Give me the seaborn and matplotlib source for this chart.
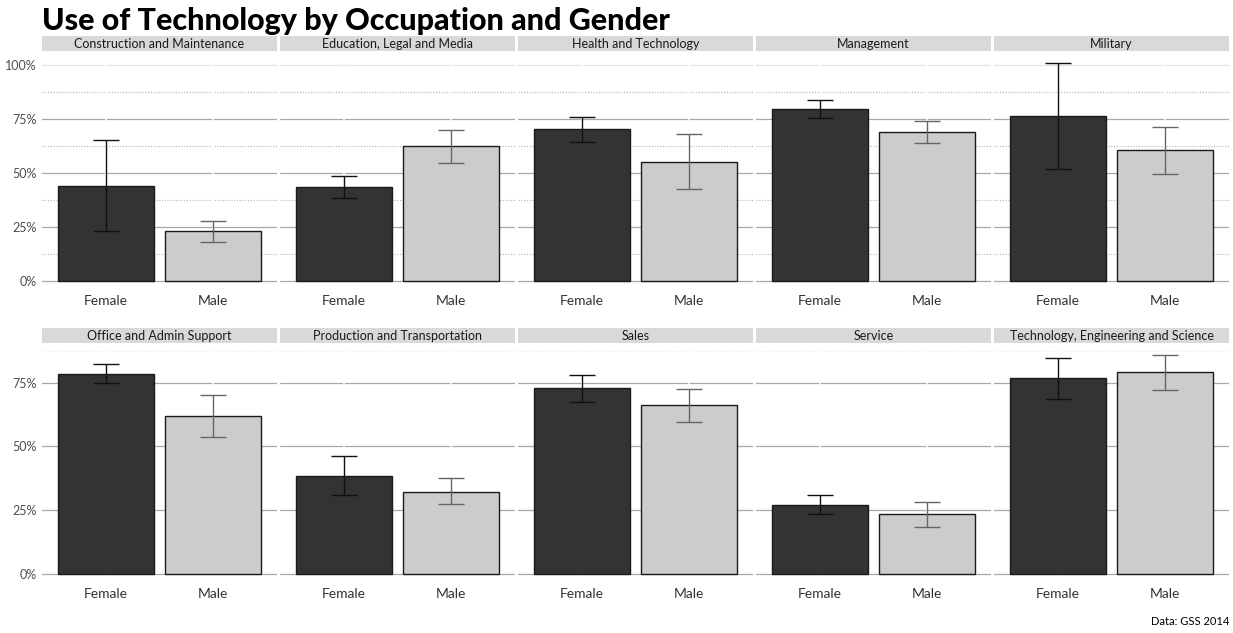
import numpy as np
import pandas as pd
import matplotlib
matplotlib.use("Agg")
import matplotlib.pyplot as plt
from matplotlib.patches import Rectangle
from matplotlib.ticker import MultipleLocator, FixedLocator, PercentFormatter
import seaborn as sns

# values (share of people using technology)
occupations = [
    "Construction and Maintenance", "Education, Legal and Media",
    "Health and Technology", "Management", "Military",
    "Office and Admin Support", "Production and Transportation",
    "Sales", "Service", "Technology, Engineering and Science",
]
genders = ["Female", "Male"]

female = [0.442, 0.434, 0.702, 0.794, 0.762, 0.785, 0.385, 0.728, 0.272, 0.767]
female_lo = [0.234, 0.385, 0.645, 0.753, 0.520, 0.748, 0.308, 0.675, 0.234, 0.685]
female_hi = [0.654, 0.485, 0.760, 0.837, 1.007, 0.822, 0.463, 0.779, 0.308, 0.848]

male = [0.232, 0.623, 0.553, 0.690, 0.605, 0.621, 0.323, 0.661, 0.234, 0.791]
male_lo = [0.183, 0.546, 0.428, 0.640, 0.496, 0.538, 0.273, 0.597, 0.185, 0.722]
male_hi = [0.277, 0.699, 0.679, 0.739, 0.711, 0.703, 0.378, 0.726, 0.281, 0.857]

colors = {"Female": "#333333", "Male": "#cccccc"}
err_colors = {"Female": "#111111", "Male": "#666666"}

rows = []
for i, occ in enumerate(occupations):
    rows.append([occ, "Female", female[i], female_lo[i], female_hi[i]])
    rows.append([occ, "Male", male[i], male_lo[i], male_hi[i]])
df = pd.DataFrame(rows, columns=["occupation", "gender", "value", "lo", "hi"])

sns.set_theme(style="white")
plt.rcParams["font.family"] = ["Lato", "DejaVu Sans"]

W, H = 1233, 633
fig = plt.figure(figsize=(W / 100, H / 100), dpi=100)

pw, gap, left = 235, 3, 42
row_box = [(292.3, 52.4), (585.0, 344.4)]  # (bottom px, top px)

for i, occ in enumerate(occupations):
    r, c = divmod(i, 5)
    bot, top = row_box[r]
    ax = fig.add_axes([(left + c * (pw + gap)) / W, 1 - bot / H, pw / W, (bot - top) / H])
    sub = df[df["occupation"] == occ]
    row_df = df[df["occupation"].isin(occupations[r * 5:(r + 1) * 5])]
    ymax = row_df["hi"].max()

    sns.barplot(data=sub, x="gender", y="value", hue="gender", order=genders,
                hue_order=genders, palette=colors, width=0.9, errorbar=None,
                edgecolor="#1a1a1a", linewidth=1, legend=False, ax=ax, zorder=3)
    for j, g in enumerate(genders):
        s = sub[sub["gender"] == g].iloc[0]
        ax.errorbar(j, s["value"], yerr=[[s["value"] - s["lo"]], [s["hi"] - s["value"]]],
                    fmt="none", ecolor=err_colors[g], elinewidth=1, capsize=9.6,
                    capthick=1, zorder=4)

    ax.set_xlim(-0.6, 1.6)
    ax.set_ylim(-0.05 * ymax, 1.05 * ymax)
    ax.yaxis.set_major_locator(MultipleLocator(0.25))
    ax.yaxis.set_major_formatter(PercentFormatter(1.0, decimals=0))
    if r == 0:
        ax.yaxis.set_minor_locator(FixedLocator([0.125, 0.375, 0.625, 0.875]))
        ax.grid(axis="y", which="minor", color="#b5b5b5", lw=0.8, ls=(0, (1, 1.5)), zorder=0)
    else:
        ax.yaxis.set_minor_locator(FixedLocator([0.875]))
        ax.grid(axis="y", which="minor", color="#eeeeee", lw=0.8, ls=(0, (1, 1.5)), zorder=0)
    ax.grid(axis="y", which="major", color="#a8a8a8", lw=0.9, zorder=0)
    for tick, gl in zip(ax.get_yticks(), ax.get_ygridlines()):
        if tick >= 1.0:
            gl.set_color("#e3e3e3")
    for j in range(len(genders)):
        ax.axvline(j, color="white", lw=1.2, zorder=1)

    for sp in ax.spines.values():
        sp.set_visible(False)
    ax.set_xlabel("")
    ax.set_ylabel("")
    ax.tick_params(axis="x", length=2, color="#c8c8c8", labelsize=10,
                   labelcolor="#333333", pad=0)
    ax.tick_params(axis="y", which="minor", length=0)
    if c == 0:
        ax.tick_params(axis="y", which="major", length=3, color="#999999",
                       labelsize=9, labelcolor="#4d4d4d", pad=1)
    else:
        ax.tick_params(axis="y", which="major", length=0, labelleft=False)

    # facet strip
    strip_h = 15 / (bot - top)
    ax.add_patch(Rectangle((0, 1.004), 1, strip_h, transform=ax.transAxes,
                           facecolor="#d9d9d9", edgecolor="none", clip_on=False))
    ax.text(0.5, 1.004 + strip_h / 2, occ, transform=ax.transAxes, ha="center",
            va="center", fontsize=9, color="#1a1a1a")

fig.text(left / W, 1 - 7 / H, "Use of Technology by Occupation and Gender",
         ha="left", va="top", fontsize=22, fontweight="black", color="black")
fig.text(1229 / W, 1 - 627 / H, "Data: GSS 2014", ha="right", va="bottom",
         fontsize=8, color="black")

fig.savefig("out.png", dpi=100)
